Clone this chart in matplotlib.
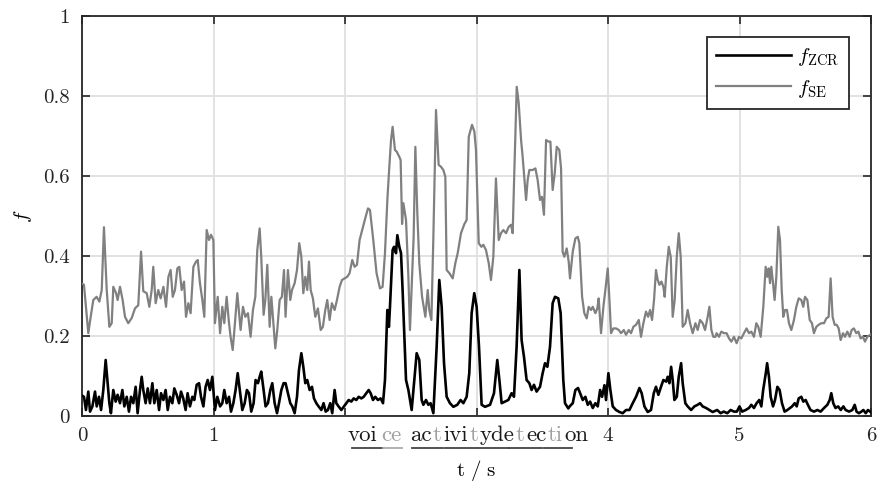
import matplotlib
matplotlib.use("Agg")
import matplotlib.pyplot as plt

# ---------------- data ----------------
t_se = [0.005, 0.015, 0.048, 0.066, 0.086, 0.111, 0.132, 0.15, 0.167, 0.188, 0.208, 0.226, 0.238, 0.259, 0.271,
        0.289, 0.309, 0.327, 0.352, 0.378, 0.403, 0.428, 0.449, 0.466, 0.492, 0.512, 0.53, 0.542, 0.56, 0.58,
        0.598, 0.619, 0.639, 0.657, 0.674, 0.69, 0.707, 0.725, 0.74, 0.758, 0.776, 0.791, 0.809, 0.826, 0.847,
        0.867, 0.88, 0.897, 0.915, 0.93, 0.948, 0.966, 0.981, 0.999, 1.011, 1.032, 1.05, 1.067, 1.082, 1.1,
        1.118, 1.13, 1.146, 1.163, 1.181, 1.206, 1.224, 1.242, 1.262, 1.282, 1.30, 1.318, 1.333, 1.351, 1.363,
        1.381, 1.394, 1.409, 1.427, 1.44, 1.457, 1.47, 1.485, 1.503, 1.52, 1.536, 1.548, 1.566, 1.584, 1.597,
        1.617, 1.635, 1.652, 1.668, 1.683, 1.698, 1.713, 1.726, 1.739, 1.756, 1.774, 1.794, 1.815, 1.832, 1.85,
        1.865, 1.883, 1.9, 1.921, 1.939, 1.959, 1.977, 1.997, 2.017, 2.035, 2.055, 2.073, 2.091, 2.111, 2.137,
        2.157, 2.175, 2.19, 2.215, 2.24, 2.266, 2.286, 2.304, 2.322, 2.337, 2.35, 2.362, 2.38, 2.393, 2.413,
        2.423, 2.434, 2.444, 2.464, 2.482, 2.494, 2.522, 2.535, 2.55, 2.565, 2.586, 2.611, 2.629, 2.641, 2.657,
        2.672, 2.692, 2.712, 2.73, 2.748, 2.763, 2.773, 2.794, 2.819, 2.839, 2.857, 2.882, 2.908, 2.925, 2.941,
        2.966, 2.984, 2.996, 3.017, 3.037, 3.052, 3.072, 3.093, 3.11, 3.128, 3.148, 3.169, 3.186, 3.204, 3.225,
        3.245, 3.263, 3.275, 3.288, 3.306, 3.321, 3.339, 3.351, 3.377, 3.389, 3.402, 3.427, 3.448, 3.465, 3.483,
        3.498, 3.513, 3.529, 3.546, 3.562, 3.579, 3.595, 3.61, 3.63, 3.643, 3.655, 3.668, 3.686, 3.701, 3.711,
        3.732, 3.752, 3.77, 3.782, 3.803, 3.82, 3.838, 3.853, 3.871, 3.884, 3.904, 3.919, 3.929, 3.947, 3.965,
        3.98, 3.998, 4.011, 4.023, 4.041, 4.061, 4.082, 4.099, 4.12, 4.137, 4.158, 4.175, 4.193, 4.213, 4.234,
        4.251, 4.269, 4.289, 4.305, 4.32, 4.335, 4.35, 4.365, 4.378, 4.391, 4.406, 4.421, 4.431, 4.447, 4.462,
        4.477, 4.492, 4.507, 4.523, 4.538, 4.553, 4.568, 4.589, 4.606, 4.624, 4.644, 4.665, 4.682, 4.7, 4.72,
        4.738, 4.758, 4.771, 4.786, 4.801, 4.817, 4.826, 4.844, 4.862, 4.882, 4.902, 4.92, 4.938, 4.958, 4.978,
        4.996, 5.014, 5.034, 5.054, 5.072, 5.09, 5.11, 5.128, 5.143, 5.161, 5.181, 5.199, 5.212, 5.222, 5.232,
        5.242, 5.255, 5.267, 5.28, 5.295, 5.308, 5.321, 5.333, 5.346, 5.361, 5.376, 5.394, 5.414, 5.432, 5.45,
        5.47, 5.485, 5.498, 5.516, 5.534, 5.551, 5.566, 5.584, 5.602, 5.622, 5.643, 5.66, 5.678, 5.693, 5.708,
        5.724, 5.739, 5.754, 5.769, 5.787, 5.802, 5.82, 5.838, 5.853, 5.87, 5.888, 5.904, 5.921, 5.939, 5.954,
        5.972, 5.995]
f_se = [0.33, 0.328, 0.207, 0.248, 0.29, 0.298, 0.286, 0.315, 0.472, 0.315, 0.223, 0.232, 0.323, 0.307, 0.29,
        0.323, 0.29, 0.248, 0.232, 0.245, 0.269, 0.277, 0.411, 0.312, 0.307, 0.273, 0.315, 0.373, 0.282, 0.315,
        0.294, 0.323, 0.273, 0.348, 0.365, 0.298, 0.315, 0.369, 0.373, 0.315, 0.336, 0.248, 0.282, 0.257, 0.373,
        0.386, 0.39, 0.332, 0.29, 0.248, 0.465, 0.44, 0.453, 0.44, 0.232, 0.298, 0.207, 0.273, 0.232, 0.298,
        0.232, 0.198, 0.165, 0.232, 0.307, 0.215, 0.273, 0.248, 0.257, 0.198, 0.265, 0.298, 0.415, 0.469, 0.398,
        0.253, 0.29, 0.378, 0.223, 0.298, 0.223, 0.169, 0.215, 0.29, 0.298, 0.365, 0.248, 0.365, 0.29, 0.315,
        0.332, 0.365, 0.432, 0.398, 0.307, 0.348, 0.315, 0.386, 0.315, 0.294, 0.248, 0.269, 0.215, 0.223, 0.265,
        0.29, 0.24, 0.282, 0.265, 0.29, 0.323, 0.34, 0.344, 0.348, 0.357, 0.39, 0.373, 0.378, 0.44, 0.473,
        0.498, 0.519, 0.515, 0.44, 0.357, 0.319, 0.323, 0.407, 0.54, 0.623, 0.69, 0.723, 0.665, 0.661, 0.648,
        0.64, 0.48, 0.532, 0.49, 0.348, 0.215, 0.448, 0.673, 0.507, 0.382, 0.298, 0.248, 0.315, 0.265, 0.24,
        0.448, 0.765, 0.628, 0.623, 0.615, 0.598, 0.365, 0.357, 0.344, 0.382, 0.407, 0.457, 0.48, 0.49, 0.698,
        0.728, 0.711, 0.665, 0.432, 0.423, 0.428, 0.415, 0.382, 0.34, 0.398, 0.594, 0.44, 0.457, 0.465, 0.457,
        0.473, 0.478, 0.457, 0.615, 0.823, 0.782, 0.69, 0.648, 0.54, 0.59, 0.615, 0.615, 0.619, 0.59, 0.54,
        0.548, 0.503, 0.69, 0.686, 0.686, 0.565, 0.607, 0.673, 0.665, 0.619, 0.41, 0.398, 0.419, 0.386, 0.344,
        0.411, 0.444, 0.448, 0.432, 0.298, 0.257, 0.244, 0.273, 0.265, 0.273, 0.257, 0.269, 0.294, 0.207, 0.273,
        0.315, 0.369, 0.29, 0.207, 0.219, 0.219, 0.215, 0.207, 0.215, 0.203, 0.215, 0.207, 0.223, 0.228, 0.24,
        0.198, 0.232, 0.261, 0.248, 0.265, 0.24, 0.29, 0.365, 0.34, 0.328, 0.336, 0.323, 0.298, 0.373, 0.423,
        0.398, 0.248, 0.29, 0.398, 0.457, 0.398, 0.223, 0.232, 0.265, 0.232, 0.207, 0.232, 0.215, 0.24, 0.232,
        0.215, 0.248, 0.273, 0.215, 0.198, 0.198, 0.207, 0.198, 0.211, 0.207, 0.207, 0.194, 0.186, 0.198, 0.182,
        0.198, 0.194, 0.207, 0.219, 0.207, 0.211, 0.198, 0.232, 0.223, 0.198, 0.273, 0.373, 0.348, 0.369, 0.332,
        0.373, 0.332, 0.29, 0.348, 0.473, 0.44, 0.315, 0.248, 0.265, 0.265, 0.232, 0.215, 0.24, 0.273, 0.294,
        0.29, 0.273, 0.298, 0.29, 0.24, 0.232, 0.207, 0.223, 0.228, 0.232, 0.232, 0.244, 0.248, 0.344, 0.248,
        0.228, 0.228, 0.219, 0.19, 0.207, 0.198, 0.211, 0.198, 0.215, 0.219, 0.207, 0.211, 0.194, 0.198, 0.186,
        0.198, 0.203]

t_zcr = [0.005, 0.015, 0.03, 0.048, 0.061, 0.079, 0.099, 0.112, 0.129, 0.145, 0.162, 0.18, 0.195, 0.208, 0.22,
         0.238, 0.256, 0.271, 0.289, 0.307, 0.322, 0.34, 0.357, 0.373, 0.39, 0.408, 0.423, 0.441, 0.454, 0.466,
         0.484, 0.5, 0.517, 0.535, 0.55, 0.568, 0.586, 0.601, 0.619, 0.636, 0.652, 0.669, 0.687, 0.702, 0.72,
         0.738, 0.753, 0.77, 0.788, 0.803, 0.821, 0.839, 0.854, 0.872, 0.89, 0.905, 0.923, 0.94, 0.956, 0.973,
         0.991, 1.011, 1.029, 1.05, 1.067, 1.082, 1.1, 1.118, 1.133, 1.151, 1.168, 1.184, 1.206, 1.219, 1.237,
         1.254, 1.27, 1.287, 1.305, 1.32, 1.338, 1.351, 1.363, 1.381, 1.396, 1.414, 1.432, 1.447, 1.465, 1.483,
         1.498, 1.516, 1.533, 1.548, 1.566, 1.584, 1.599, 1.617, 1.635, 1.65, 1.668, 1.683, 1.698, 1.713, 1.731,
         1.749, 1.764, 1.782, 1.799, 1.82, 1.837, 1.853, 1.87, 1.888, 1.903, 1.921, 1.934, 1.951, 1.972, 1.992,
         2.01, 2.028, 2.048, 2.066, 2.086, 2.104, 2.124, 2.142, 2.162, 2.18, 2.195, 2.213, 2.23, 2.25, 2.271,
         2.289, 2.304, 2.322, 2.334, 2.342, 2.362, 2.373, 2.388, 2.398, 2.413, 2.426, 2.438, 2.464, 2.482, 2.507,
         2.545, 2.565, 2.583, 2.596, 2.616, 2.634, 2.651, 2.672, 2.697, 2.717, 2.735, 2.753, 2.773, 2.798, 2.824,
         2.854, 2.879, 2.9, 2.925, 2.945, 2.963, 2.983, 3.001, 3.019, 3.039, 3.065, 3.103, 3.133, 3.158, 3.174,
         3.191, 3.217, 3.242, 3.267, 3.285, 3.305, 3.326, 3.343, 3.361, 3.381, 3.402, 3.419, 3.437, 3.457, 3.483,
         3.503, 3.521, 3.539, 3.559, 3.579, 3.597, 3.622, 3.64, 3.66, 3.673, 3.698, 3.711, 3.732, 3.752, 3.772,
         3.788, 3.808, 3.828, 3.846, 3.864, 3.884, 3.904, 3.922, 3.94, 3.955, 3.973, 3.985, 4.003, 4.018, 4.036,
         4.061, 4.087, 4.112, 4.137, 4.163, 4.188, 4.213, 4.239, 4.256, 4.277, 4.302, 4.327, 4.348, 4.365, 4.383,
         4.403, 4.421, 4.442, 4.454, 4.467, 4.48, 4.492, 4.505, 4.523, 4.538, 4.556, 4.568, 4.588, 4.606, 4.632,
         4.657, 4.682, 4.7, 4.72, 4.746, 4.771, 4.796, 4.83, 4.857, 4.88, 4.907, 4.933, 4.958, 4.98, 5.0,
         5.02, 5.047, 5.072, 5.09, 5.11, 5.13, 5.15, 5.166, 5.18, 5.2, 5.21, 5.224, 5.237, 5.255, 5.27,
         5.288, 5.305, 5.323, 5.343, 5.364, 5.384, 5.4, 5.42, 5.435, 5.45, 5.47, 5.485, 5.503, 5.52, 5.54,
         5.567, 5.592, 5.617, 5.643, 5.668, 5.686, 5.698, 5.713, 5.73, 5.75, 5.77, 5.79, 5.807, 5.833, 5.858,
         5.876, 5.89, 5.908, 5.927, 5.942, 5.96, 5.977, 5.997]
f_zcr = [0.05, 0.048, 0.015, 0.061, 0.011, 0.024, 0.061, 0.024, 0.048, 0.015, 0.065, 0.14, 0.082, 0.032, 0.007,
         0.065, 0.036, 0.053, 0.032, 0.065, 0.024, 0.048, 0.011, 0.048, 0.032, 0.073, 0.007, 0.065, 0.098, 0.065,
         0.032, 0.069, 0.032, 0.082, 0.032, 0.065, 0.015, 0.057, 0.04, 0.065, 0.015, 0.048, 0.032, 0.069, 0.053,
         0.032, 0.061, 0.044, 0.015, 0.057, 0.024, 0.048, 0.04, 0.078, 0.082, 0.048, 0.024, 0.073, 0.09, 0.065,
         0.098, 0.015, 0.048, 0.024, 0.032, 0.065, 0.032, 0.048, 0.011, 0.032, 0.065, 0.107, 0.048, 0.015, 0.032,
         0.065, 0.057, 0.011, 0.032, 0.09, 0.082, 0.098, 0.111, 0.065, 0.024, 0.032, 0.065, 0.082, 0.032, 0.007,
         0.032, 0.065, 0.082, 0.082, 0.057, 0.032, 0.024, 0.007, 0.048, 0.115, 0.157, 0.123, 0.082, 0.09, 0.065,
         0.073, 0.044, 0.032, 0.024, 0.015, 0.032, 0.011, 0.015, 0.032, 0.007, 0.065, 0.032, 0.024, 0.015, 0.024,
         0.032, 0.04, 0.036, 0.044, 0.04, 0.048, 0.044, 0.048, 0.057, 0.065, 0.057, 0.04, 0.048, 0.04, 0.044,
         0.032, 0.09, 0.265, 0.223, 0.273, 0.415, 0.423, 0.407, 0.452, 0.423, 0.407, 0.315, 0.09, 0.065, 0.015,
         0.157, 0.14, 0.04, 0.028, 0.04, 0.028, 0.032, 0.007, 0.173, 0.34, 0.273, 0.132, 0.048, 0.032, 0.023,
         0.028, 0.04, 0.032, 0.048, 0.107, 0.257, 0.307, 0.273, 0.173, 0.028, 0.023, 0.028, 0.057, 0.14, 0.09,
         0.032, 0.036, 0.04, 0.057, 0.048, 0.173, 0.365, 0.19, 0.148, 0.09, 0.082, 0.065, 0.078, 0.061, 0.073,
         0.107, 0.132, 0.123, 0.173, 0.282, 0.298, 0.294, 0.257, 0.09, 0.032, 0.019, 0.025, 0.032, 0.065, 0.07,
         0.057, 0.04, 0.048, 0.028, 0.036, 0.02, 0.032, 0.024, 0.065, 0.048, 0.077, 0.04, 0.107, 0.065, 0.024,
         0.015, 0.01, 0.007, 0.015, 0.015, 0.032, 0.048, 0.07, 0.057, 0.024, 0.01, 0.015, 0.057, 0.073, 0.053,
         0.073, 0.09, 0.086, 0.098, 0.082, 0.123, 0.09, 0.04, 0.048, 0.098, 0.132, 0.082, 0.032, 0.024, 0.015,
         0.024, 0.028, 0.032, 0.024, 0.02, 0.015, 0.01, 0.015, 0.007, 0.011, 0.007, 0.015, 0.011, 0.011, 0.024,
         0.011, 0.015, 0.02, 0.028, 0.02, 0.032, 0.04, 0.024, 0.065, 0.107, 0.132, 0.098, 0.048, 0.024, 0.04,
         0.073, 0.065, 0.032, 0.011, 0.015, 0.02, 0.024, 0.032, 0.024, 0.044, 0.048, 0.036, 0.04, 0.028, 0.015,
         0.011, 0.015, 0.011, 0.02, 0.028, 0.04, 0.057, 0.032, 0.02, 0.024, 0.015, 0.024, 0.015, 0.011, 0.015,
         0.028, 0.011, 0.007, 0.011, 0.015, 0.007, 0.015, 0.01]

x_ticks = [0, 1, 2, 3, 4, 5, 6]
x_tick_labels = ["0", "1", "", "", "4", "5", "6"]
y_ticks = [0, 0.2, 0.4, 0.6, 0.8, 1]
y_tick_labels = ["0", "0.2", "0.4", "0.6", "0.8", "1"]

series_labels = [r"$f_{\mathrm{ZCR}}$", r"$f_{\mathrm{SE}}$"]

# annotation text: (chunk, is_highlighted)
word_chunks = [("voi", False), ("ce", True), ("ac", False), ("t", True), ("ivi", False), ("t", True),
               ("yde", False), ("t", True), ("ec", False), ("ti", True), ("on", False)]
word_gaps = [0, 3, 6, 1, 1, 1, 1, 1, 1, 1, 1]   # points of extra space before each chunk
underline_segments = [(2.05, 2.29, True), (2.29, 2.43, False), (2.51, 2.745, True), (2.76, 3.0, True),
                      (3.01, 3.25, True), (3.25, 3.50, True), (3.51, 3.73, True)]

# ---------------- style ----------------
plt.rcParams["font.family"] = "serif"
plt.rcParams["font.serif"] = ["cmr10"]
plt.rcParams["mathtext.fontset"] = "cm"
plt.rcParams["axes.formatter.use_mathtext"] = True

fig = plt.figure(figsize=(8.77, 4.84), dpi=100)
ax = fig.add_axes([82 / 877, 1 - 416 / 484, (871 - 82) / 877, 400 / 484])

ax.plot(t_zcr, f_zcr, color="black", lw=1.9, label=series_labels[0], zorder=3)
ax.plot(t_se, f_se, color="#808080", lw=1.6, label=series_labels[1], zorder=3)

ax.set_xlim(0, 6)
ax.set_ylim(0, 1)
ax.set_xticks(x_ticks)
ax.set_xticklabels(x_tick_labels)
ax.set_yticks(y_ticks)
ax.set_yticklabels(y_tick_labels)
ax.tick_params(direction="in", length=6, width=1.2, colors="#262626", labelsize=15,
               top=True, right=True, labelcolor="#262626")
ax.tick_params(axis="x", pad=8)
ax.tick_params(axis="y", pad=9)
ax.grid(True, color="#e2e2e2", lw=1.4, zorder=0)
ax.set_axisbelow(True)
for s in ax.spines.values():
    s.set_color("#262626")
    s.set_linewidth(1.3)

ax.set_ylabel(r"$f$", fontsize=15, labelpad=6)
ax.set_xlabel(r"$\mathrm{t\ /\ s}$", fontsize=15, labelpad=9)

leg = ax.legend(loc="upper right", bbox_to_anchor=((849 - 82) / 789, (416 - 37) / 400),
                borderaxespad=0, fontsize=15, handlelength=3.6, labelspacing=0.45,
                fancybox=False, framealpha=1, edgecolor="#262626", borderpad=0.45,
                handletextpad=0.3)
leg.get_frame().set_linewidth(1.3)

# "voice activity detection" overlay in the tick-label row
dark = "#1a1a1a"
light = "#a0a0a0"
trans = ax.get_xaxis_transform()
txt = None
for (chunk, hl), gap in zip(word_chunks, word_gaps):
    col = light if hl else dark
    if txt is None:
        txt = ax.text(2.02, -0.062, chunk, transform=trans, fontsize=16.5, color=col,
                      ha="left", va="baseline")
    else:
        txt = ax.annotate(chunk, xy=(1, 0), xycoords=txt, xytext=(gap, 0),
                          textcoords="offset points", fontsize=16.5, color=col,
                          ha="left", va="bottom")
for x0, x1, dk in underline_segments:
    ax.plot([x0, x1], [-0.080, -0.080], transform=trans, clip_on=False,
            color="#444444" if dk else "#aaaaaa", lw=1.3)

fig.savefig("out.png", dpi=100)
